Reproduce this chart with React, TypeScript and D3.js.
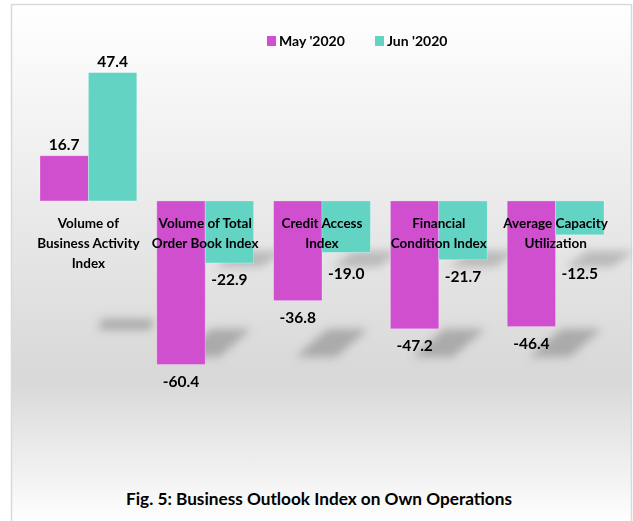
import { useEffect } from 'react'
import * as d3 from 'd3'

const categories = [
  ['Volume of', 'Business Activity', 'Index'],
  ['Volume of Total', 'Order Book Index'],
  ['Credit Access', 'Index'],
  ['Financial', 'Condition Index'],
  ['Average Capacity', 'Utilization'],
]
const seriesNames = ["May '2020", "Jun '2020"]
const mayValues = [16.7, -60.4, -36.8, -47.2, -46.4]
const junValues = [47.4, -22.9, -19.0, -21.7, -12.5]
const colors = ['#cf4fcf', '#63d3c3']

const W = 633
const H = 521
const FONT = "Lato, 'Open Sans', sans-serif"

export default function App() {
  useEffect(() => {
    document.body.style.margin = '0'
  }, [])

  const keys = categories.map((_, i) => String(i))
  const x0 = d3.scaleBand().domain(keys).range([30, 614]).padding(0)
  const x1 = d3.scaleBand().domain(seriesNames).range([10, x0.bandwidth() - 10]).padding(0)
  const y = d3.scaleLinear().domain([-65, 55]).range([377, 52])
  const zero = y(0)

  const bars = categories.flatMap((_, i) =>
    [mayValues[i], junValues[i]].map((v, s) => ({
      i,
      s,
      v,
      x: (x0(String(i)) ?? 0) + (x1(seriesNames[s]) ?? 0),
      w: x1.bandwidth(),
    }))
  )

  // perspective-ish shadow under each bar (decoration only)
  const shadowPath = (b: (typeof bars)[number]) => {
    let top: number, bot: number, l: number, r: number, skew: number
    if (b.v >= 0) {
      if (b.s === 1) return ''
      top = zero + 118; bot = zero + 129
      l = b.x + 58; r = b.x + b.w + 62; skew = 4
    } else if (b.s === 0) {
      top = zero + 128; bot = zero + 156
      l = b.x + 22; r = b.x + b.w + 14; skew = 32
    } else {
      top = zero + 50; bot = zero + 66
      l = b.x + 10; r = b.x + b.w + 8; skew = 22
    }
    return `M${l},${bot}L${r},${bot}L${r + skew},${top}L${l + skew},${top}Z`
  }

  const labelY = (b: (typeof bars)[number]) => {
    if (b.v >= 0) return y(b.v) - 6
    return Math.max(y(b.v) + 22, zero + 78)
  }

  return (
    <svg width={W} height={H} style={{ position: 'absolute', left: 0, top: 0 }}>
      <defs>
        <linearGradient id="bg" x1="0" y1="0" x2="0" y2="1">
          <stop offset="0" stopColor="#ffffff" />
          <stop offset="0.72" stopColor="#d8d8d8" />
          <stop offset="1" stopColor="#ffffff" />
        </linearGradient>
        <filter id="blur" x="-50%" y="-50%" width="200%" height="200%">
          <feGaussianBlur stdDeviation="4" />
        </filter>
      </defs>
      <rect x={11.5} y={4.5} width={620} height={520} fill="url(#bg)" stroke="#d9d9d9" strokeWidth={1.5} />

      <g filter="url(#blur)">
        {bars.map((b, k) => (
          <path key={k} d={shadowPath(b)} fill="#7a7a7a" opacity={b.s === 1 ? 0.4 : 0.5} />
        ))}
      </g>

      {bars.map((b, k) => (
        <rect
          key={k}
          x={b.x}
          y={Math.min(y(b.v), zero)}
          width={b.w}
          height={Math.abs(y(b.v) - zero)}
          fill={colors[b.s]}
          stroke="#ffffff"
          strokeOpacity={0.35}
          strokeWidth={0.8}
        />
      ))}

      {categories.map((lines, i) => (
        <text
          key={i}
          x={(x0(String(i)) ?? 0) + x0.bandwidth() / 2}
          y={zero + 27}
          textAnchor="middle"
          fontFamily={FONT}
          fontWeight="bold"
          fontSize={13.5}
          fill="#000"
        >
          {lines.map((t, j) => (
            <tspan key={j} x={(x0(String(i)) ?? 0) + x0.bandwidth() / 2} dy={j === 0 ? 0 : 20}>
              {t}
            </tspan>
          ))}
        </text>
      ))}

      {bars.map((b, k) => (
        <text
          key={k}
          x={b.x + b.w / 2}
          y={labelY(b)}
          textAnchor="middle"
          fontFamily={FONT}
          fontWeight="bold"
          fontSize={15.5}
          fill="#000"
        >
          {b.v.toFixed(1)}
        </text>
      ))}

      {seriesNames.map((name, s) => (
        <g key={name} transform={`translate(${267 + s * 108},36)`}>
          <rect width={9} height={10} fill={colors[s]} />
          <text x={12} y={10} fontFamily={FONT} fontWeight="bold" fontSize={14} fill="#000">
            {name}
          </text>
        </g>
      ))}

      <text
        x={319}
        y={505}
        textAnchor="middle"
        fontFamily={FONT}
        fontWeight="bold"
        fontSize={17}
        textLength={386}
        lengthAdjust="spacingAndGlyphs"
        fill="#000"
      >
        Fig. 5: Business Outlook Index on Own Operations
      </text>
    </svg>
  )
}
